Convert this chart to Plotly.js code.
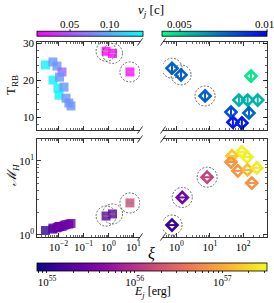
<!DOCTYPE html>
<html><head><meta charset="utf-8">
<script src="https://cdn.plot.ly/plotly-3.0.1.min.js"></script>
<style>html,body{margin:0;padding:0;background:#fff}#chart{width:274px;height:303px}</style>
</head><body><div id="chart"></div>
<script>
// ---- left panels (squares): xi, T_RB, M_H, v_j [c], E_j [erg]
const xiLeft = [0.003, 0.006, 0.0087, 0.0138, 0.006, 0.011, 0.0095, 0.0166, 0.0105, 0.02, 0.026, 0.0316, 0.8, 1.45, 7.2];
const tLeft  = [24.1, 24.9, 23.8, 22.2, 20.0, 20.8, 17.8, 18.1, 15.9, 15.1, 13.8, 13.0, 27.8, 27.2, 22.2];
const mLeft  = [1.15, 1.2, 1.25, 1.3, 1.24, 1.3, 1.27, 1.35, 1.3, 1.38, 1.4, 1.43, 1.8, 1.92, 2.7];
const vLeft  = [0.134, 0.085, 0.085, 0.062, 0.134, 0.085, 0.134, 0.085, 0.134, 0.085, 0.085, 0.085, 0.01, 0.01, 0.01];
const eLeft  = [1.1e55, 1.15e55, 2.6e55, 2.7e55, 2.5e55, 2.6e55, 2.5e55, 2.7e55, 2.6e55, 2.8e55, 2.8e55, 2.9e55, 2.1e55, 2.1e55, 1.6e56];
const circledLeft = [12, 13, 14];

// ---- right panels (diamonds)
const xiRightTop = [0.74, 1.38, 7.2, 170, 74, 135, 270, 43, 148, 49, 91];
const tRight     = [23.2, 21.4, 15.7, 21.1, 14.6, 14.6, 14.6, 11.35, 11.1, 8.6, 8.4];
const vRight     = [0.0077, 0.0077, 0.0077, 0.0045, 0.0058, 0.0058, 0.0058, 0.0082, 0.0076, 0.0094, 0.0094];
const xiRightBot = [0.74, 1.5, 8.3, 91, 46, 43, 130, 69, 133, 255, 180];
const mRight     = [1.36, 3.2, 6.0, 13.1, 11.6, 9.6, 11.2, 7.3, 7.5, 8.0, 5.0];
const eRight     = [1.26e55, 2.9e55, 1.4e56, 3.0e57, 1.6e57, 7e56, 2.8e57, 7e56, 1.3e57, 2.6e57, 6.5e56];
const circledRight = [0, 1, 2];

// ---- colorbar ticks
const vTicksL = [0.05, 0.10], vTextL = ['0.05', '0.10'];
const vTicksR = [0.005, 0.01], vTextR = ['0.005', '0.01'];

const F = '"Liberation Serif", "DejaVu Serif", serif';
const pxX = v => v / 274, pxY = v => 1 - v / 303;
const log10 = Math.log10;

function minorLog(lo, hi) { const a = []; for (let e = lo; e <= hi; e++) for (let k = 2; k <= 9; k++) a.push(k * Math.pow(10, e)); return a; }
function sup(e) { return '10<sup>' + String(e).replace('-', '\u2212') + '</sup>'; }

const tickfont = {family: F, size: 11, color: '#000'};
function logX(domain, range, anchor, labels, majors) {
  return {type: 'log', domain, range, anchor, showline: true, linecolor: '#000', linewidth: 0.8, mirror: 'ticks',
    ticks: 'inside', ticklen: 4, tickwidth: 0.8, tickcolor: '#000', showgrid: false, zeroline: false,
    tickmode: 'array', tickvals: majors.map(e => Math.pow(10, e)), ticktext: majors.map(sup), showticklabels: labels,
    tickfont, minor: {ticks: 'inside', ticklen: 2, tickwidth: 0.6, tickcolor: '#000', tickmode: 'array', tickvals: minorLog(-4, 3), showgrid: false}};
}
const domL = [pxX(37), pxX(140)], domR = [pxX(163), pxX(267)];
const domTop = [pxY(130), pxY(42)], domBot = [pxY(237), pxY(139)];
const rangeXL = [-2.86, 1.26], rangeXR = [-0.40, 2.71];
const rangeYT = [6.5, 30.3], rangeYB = [-0.027, 1.292];

function linY(domain, anchor, side, labels) {
  return {domain, anchor, side, range: rangeYT, showline: true, linecolor: '#000', linewidth: 0.8, mirror: false,
    ticks: 'inside', ticklen: 4, tickwidth: 0.8, tickcolor: '#000', showgrid: false, zeroline: false,
    tickmode: 'array', tickvals: [10, 20, 30], showticklabels: labels, tickfont,
    minor: {ticks: 'inside', ticklen: 2, tickwidth: 0.6, tickcolor: '#000', dtick: 2, showgrid: false}};
}
function logY(domain, anchor, side, labels) {
  return {type: 'log', domain, anchor, side, range: rangeYB, showline: true, linecolor: '#000', linewidth: 0.8, mirror: false,
    ticks: 'inside', ticklen: 4, tickwidth: 0.8, tickcolor: '#000', showgrid: false, zeroline: false,
    tickmode: 'array', tickvals: [1, 10], ticktext: [sup(0), sup(1)], showticklabels: labels, tickfont,
    minor: {ticks: 'inside', ticklen: 2, tickwidth: 0.6, tickcolor: '#000', tickmode: 'array', tickvals: minorLog(0, 1), showgrid: false}};
}

const plasma = [[0, '#0d0887'], [0.1, '#41049d'], [0.2, '#6a00a8'], [0.3, '#8f0da4'], [0.4, '#b12a90'], [0.5, '#cc4778'],
  [0.6, '#e16462'], [0.7, '#f2844b'], [0.8, '#fca636'], [0.9, '#fcce25'], [1, '#f0f921']];

const sq = {symbol: 'square', size: 9, opacity: 0.8, line: {width: 0}};
const dm = {symbol: 'diamond-open', size: 8.5, line: {width: 2.6}};
const dmBar = {symbol: 'line-ns-open', size: 7, line: {width: 2}};

function mk(x, y, xa, ya, base, color, cax) {
  return {type: 'scatter', mode: 'markers', x, y, xaxis: xa, yaxis: ya, hoverinfo: 'skip',
    marker: Object.assign({}, base, {color, coloraxis: cax})};
}
const traces = [
  mk(xiLeft, tLeft, 'x3', 'y3', sq, vLeft, 'coloraxis'),
  mk(xiRightTop, tRight, 'x4', 'y4', dm, vRight, 'coloraxis2'),
  mk(xiRightTop, tRight, 'x4', 'y4', dmBar, vRight, 'coloraxis2'),
  mk(xiLeft, mLeft, 'x', 'y', sq, eLeft.map(log10), 'coloraxis3'),
  mk(xiRightBot, mRight, 'x2', 'y2', dm, eRight.map(log10), 'coloraxis3'),
  mk(xiRightBot, mRight, 'x2', 'y2', Object.assign({}, dmBar, {symbol: 'line-ew-open', size: 6}), eRight.map(log10), 'coloraxis3')
];
// white bars inside circled squares
const circTop = circledLeft.map(i => xiLeft[i]);
traces.push({type: 'scatter', mode: 'markers', x: circTop, y: circledLeft.map(i => tLeft[i]), xaxis: 'x3', yaxis: 'y3', hoverinfo: 'skip',
  marker: {symbol: 'line-ew-open', size: 5, line: {width: 1, color: 'rgba(255,255,255,0.85)'}}});
traces.push({type: 'scatter', mode: 'markers', x: circTop, y: circledLeft.map(i => mLeft[i]), xaxis: 'x', yaxis: 'y', hoverinfo: 'skip',
  marker: {symbol: 'line-ew-open', size: 5, line: {width: 1, color: 'rgba(255,255,255,0.85)'}}});

// dashed circles (radius ~10 px) around selected points, sized in axis units
const shapes = [];
const RL = 0.40, RR = 0.30;      // decades of x per 10 px (left, right panels)
const RT = 2.7, RB = 0.135;      // y units per 10 px (top linear, bottom log decades)
function circ(xr, yr, x, y, rx, ry, ylog) {
  shapes.push({type: 'circle', xref: xr, yref: yr,
    x0: x * Math.pow(10, -rx), x1: x * Math.pow(10, rx),
    y0: ylog ? y * Math.pow(10, -ry) : y - ry, y1: ylog ? y * Math.pow(10, ry) : y + ry,
    line: {color: '#444', width: 0.8, dash: '2px,1.5px'}});
}
circledLeft.forEach(i => { circ('x3', 'y3', xiLeft[i], tLeft[i], RL, RT, false); circ('x', 'y', xiLeft[i], mLeft[i], RL, RB, true); });
circledRight.forEach(i => { circ('x4', 'y4', xiRightTop[i], tRight[i], RR, RT, false); circ('x2', 'y2', xiRightBot[i], mRight[i], RR, RB, true); });
// broken-axis marks
[42, 130, 139, 237].forEach(cy => [140, 163].forEach(cx => {
  shapes.push({type: 'line', xref: 'paper', yref: 'paper', x0: pxX(cx - 2.5), y0: pxY(cy + 3.5), x1: pxX(cx + 2.5), y1: pxY(cy - 3.5),
    line: {color: '#000', width: 0.8}});
}));

const cbBase = {orientation: 'h', xanchor: 'left', lenmode: 'pixels', thicknessmode: 'pixels', xpad: 0, ypad: 0,
  outlinewidth: 0.8, outlinecolor: '#000', ticks: 'outside', ticklen: 3, tickwidth: 0.8, tickcolor: '#000',
  tickfont, tickmode: 'array'};

const eVals = [], eText = [];
for (let e = 54; e <= 57; e++) for (let k = 1; k <= 9; k++) {
  const v = e + log10(k);
  if (v >= 54.886 && v <= 57.51) { eVals.push(v); eText.push(k === 1 ? sup(e) : ''); }
}

// top colorbars: ticks and labels drawn above the bars
const cbL = {x0: 37, len: 106, cmin: 0.00875, cmax: 0.141};
const cbR = {x0: 162, len: 105, cmin: 0.00397, cmax: 0.01};
const annotations = [];
function topTicks(cb, vals, texts) {
  vals.forEach((v, i) => {
    const xp = cb.x0 + cb.len * (v - cb.cmin) / (cb.cmax - cb.cmin);
    shapes.push({type: 'line', xref: 'paper', yref: 'paper', x0: pxX(xp), x1: pxX(xp), y0: pxY(32), y1: pxY(29), line: {color: '#000', width: 0.8}});
    const lx = Math.min(xp, 264);
    annotations.push({xref: 'paper', yref: 'paper', x: pxX(lx), y: pxY(23.5), xanchor: 'center', yanchor: 'middle', text: texts[i], showarrow: false, font: tickfont});
  });
}
topTicks(cbL, vTicksL, vTextL);
topTicks(cbR, vTicksR, vTextR);

const ann = (x, y, text, size, angle) => ({xref: 'paper', yref: 'paper', x: pxX(x), y: pxY(y), xanchor: 'center', yanchor: 'middle',
  text, textangle: angle || 0, showarrow: false, font: {family: F, size, color: '#000'}});
annotations.push(ann(151, 11, '<i>v<sub>j</sub></i> [c]', 13));
annotations.push(ann(151, 253, '<i>ξ</i>', 16));
annotations.push(ann(152, 292, '<i>E<sub>j</sub></i> [erg]', 12));
annotations.push(ann(12, 85, 'T<sub>RB</sub>', 13, -90));
annotations.push(ann(12, 175, '<i>ℳ<sub>H</sub></i>', 13, -90));

const layout = {
  width: 274, height: 303, margin: {l: 0, r: 0, t: 0, b: 0, autoexpand: false},
  paper_bgcolor: '#fff', plot_bgcolor: '#fff', showlegend: false, font: {family: F, size: 11, color: '#000'},
  xaxis: logX(domL, rangeXL, 'y', true, [-2, -1, 0, 1]),
  yaxis: logY(domBot, 'x', 'left', true),
  xaxis2: logX(domR, rangeXR, 'y2', true, [0, 1, 2]),
  yaxis2: logY(domBot, 'x2', 'right', false),
  xaxis3: logX(domL, rangeXL, 'y3', false, [-2, -1, 0, 1]),
  yaxis3: linY(domTop, 'x3', 'left', true),
  xaxis4: logX(domR, rangeXR, 'y4', false, [0, 1, 2]),
  yaxis4: linY(domTop, 'x4', 'right', false),
  coloraxis: {colorscale: [[0, '#ff00ff'], [1, '#00ffff']], cmin: cbL.cmin, cmax: cbL.cmax,
    colorbar: Object.assign({}, cbBase, {x: pxX(cbL.x0), y: pxY(37), yanchor: 'bottom', len: cbL.len, thickness: 5,
      ticks: '', showticklabels: false})},
  coloraxis2: {colorscale: [[0, 'rgb(0,255,128)'], [1, 'rgb(0,0,255)']], cmin: cbR.cmin, cmax: cbR.cmax,
    colorbar: Object.assign({}, cbBase, {x: pxX(cbR.x0), y: pxY(37), yanchor: 'bottom', len: cbR.len, thickness: 5,
      ticks: '', showticklabels: false})},
  coloraxis3: {colorscale: plasma, cmin: 54.886, cmax: 57.51,
    colorbar: Object.assign({}, cbBase, {x: pxX(37), y: pxY(263), yanchor: 'top', len: 230, thickness: 8,
      tickvals: eVals, ticktext: eText, ticklen: 2})},
  shapes,
  annotations
};

Plotly.newPlot('chart', traces, layout, {staticPlot: true, displayModeBar: false});
</script></body></html>
